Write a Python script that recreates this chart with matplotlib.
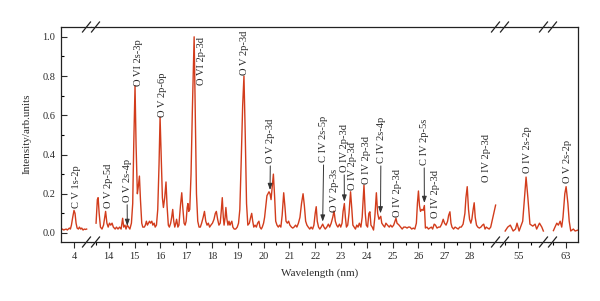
import matplotlib
matplotlib.use("Agg")
import matplotlib.pyplot as plt
import numpy as np

plt.rcParams['font.family'] = ['Liberation Serif', 'DejaVu Serif']

# spectrum, one array pair per axis segment
wl_c = [3.50, 3.55, 3.60, 3.65, 3.70, 3.74, 3.78, 3.82, 3.86, 3.90, 3.95, 4.00,
        4.04, 4.08, 4.12, 4.17, 4.21, 4.26, 4.30, 4.35, 4.40, 4.45, 4.49]
int_c = [0.015, 0.02, 0.015, 0.018, 0.02, 0.015, 0.02, 0.025, 0.02, 0.04, 0.08, 0.115,
         0.10, 0.05, 0.025, 0.02, 0.03, 0.02, 0.025, 0.015, 0.02, 0.018, 0.02]

wl_mid = [13.51, 13.56, 13.59, 13.63, 13.68, 13.74, 13.80, 13.88, 13.93, 13.98, 14.03, 14.08,
          14.13, 14.18, 14.25, 14.30, 14.36, 14.42, 14.48, 14.54, 14.58, 14.63, 14.67, 14.72,
          14.77, 14.82, 14.88, 14.93, 14.97, 15.02, 15.06, 15.11, 15.15, 15.19, 15.23, 15.28,
          15.32, 15.38, 15.42, 15.46, 15.50, 15.54, 15.58, 15.62, 15.67, 15.71, 15.76, 15.80,
          15.85, 15.90, 15.95, 15.99, 16.03, 16.08, 16.12, 16.17, 16.22, 16.26, 16.31, 16.35,
          16.40, 16.44, 16.48, 16.52, 16.56, 16.60, 16.63, 16.68, 16.72, 16.78, 16.83, 16.87,
          16.92, 16.96, 17.00, 17.04, 17.07, 17.10, 17.14, 17.19, 17.24, 17.31, 17.36, 17.40,
          17.45, 17.50, 17.55, 17.60, 17.66, 17.71, 17.76, 17.81, 17.86, 17.91, 17.96, 18.02,
          18.08, 18.13, 18.17, 18.22, 18.27, 18.32, 18.36, 18.40, 18.44, 18.47, 18.51, 18.54,
          18.58, 18.62, 18.66, 18.70, 18.73, 18.77, 18.81, 18.86, 18.92, 18.98, 19.03, 19.08,
          19.13, 19.19, 19.24, 19.29, 19.34, 19.39, 19.45, 19.50, 19.54, 19.58, 19.62, 19.67,
          19.72, 19.77, 19.82, 19.86, 19.91, 19.95, 20.00, 20.04, 20.08, 20.13, 20.17, 20.21,
          20.25, 20.29, 20.34, 20.38, 20.43, 20.47, 20.52, 20.57, 20.62, 20.67, 20.72, 20.78,
          20.83, 20.87, 20.92, 20.97, 21.02, 21.08, 21.13, 21.18, 21.24, 21.29, 21.35, 21.41,
          21.47, 21.53, 21.58, 21.63, 21.68, 21.73, 21.79, 21.84, 21.90, 21.95, 22.00, 22.04,
          22.08, 22.13, 22.18, 22.23, 22.29, 22.34, 22.39, 22.45, 22.51, 22.56, 22.62, 22.68,
          22.73, 22.78, 22.83, 22.88, 22.94, 22.99, 23.04, 23.08, 23.13, 23.17, 23.21, 23.26,
          23.31, 23.37, 23.42, 23.46, 23.51, 23.56, 23.61, 23.66, 23.71, 23.77, 23.82, 23.89,
          23.94, 23.98, 24.03, 24.08, 24.12, 24.16, 24.21, 24.26, 24.31, 24.37, 24.42, 24.47,
          24.54, 24.58, 24.63, 24.69, 24.74, 24.80, 24.87, 24.92, 24.98, 25.04, 25.09, 25.13,
          25.17, 25.21, 25.25, 25.31, 25.37, 25.43, 25.50, 25.56, 25.61, 25.67, 25.74, 25.80,
          25.86, 25.92, 25.96, 26.00, 26.04, 26.08, 26.13, 26.18, 26.23, 26.27, 26.33, 26.39,
          26.44, 26.50, 26.55, 26.61, 26.66, 26.72, 26.78, 26.84, 26.90, 26.96, 27.01, 27.07,
          27.13, 27.17, 27.22, 27.26, 27.30, 27.36, 27.42, 27.48, 27.54, 27.60, 27.66, 27.73,
          27.80, 27.84, 27.89, 27.94, 27.98, 28.03, 28.07, 28.12, 28.16, 28.20, 28.25, 28.30,
          28.36, 28.42, 28.48, 28.53, 28.58, 28.63, 28.68, 28.74, 28.80, 28.85, 28.92, 28.99]
int_mid = [0.05, 0.17, 0.18, 0.10, 0.03, 0.02, 0.04, 0.11, 0.05, 0.03, 0.05, 0.04,
           0.05, 0.03, 0.02, 0.03, 0.02, 0.03, 0.02, 0.075, 0.03, 0.04, 0.02, 0.04,
           0.03, 0.02, 0.05, 0.15, 0.45, 0.75, 0.45, 0.20, 0.24, 0.29, 0.17, 0.05,
           0.03, 0.03, 0.04, 0.06, 0.04, 0.05, 0.06, 0.05, 0.06, 0.04, 0.05, 0.03,
           0.04, 0.12, 0.35, 0.59, 0.40, 0.18, 0.13, 0.18, 0.26, 0.14, 0.04, 0.03,
           0.05, 0.08, 0.12, 0.06, 0.03, 0.05, 0.07, 0.03, 0.04, 0.14, 0.205, 0.13,
           0.05, 0.04, 0.06, 0.13, 0.15, 0.11, 0.12, 0.30, 0.62, 1.00, 0.55, 0.20,
           0.06, 0.03, 0.03, 0.05, 0.08, 0.11, 0.06, 0.04, 0.05, 0.03, 0.04, 0.05,
           0.07, 0.10, 0.11, 0.07, 0.04, 0.05, 0.11, 0.18, 0.08, 0.04, 0.08, 0.13,
           0.07, 0.04, 0.06, 0.04, 0.05, 0.06, 0.03, 0.02, 0.02, 0.03, 0.05, 0.12,
           0.35, 0.65, 0.80, 0.50, 0.15, 0.04, 0.05, 0.08, 0.10, 0.06, 0.03, 0.04,
           0.03, 0.05, 0.06, 0.03, 0.02, 0.03, 0.05, 0.08, 0.13, 0.19, 0.20, 0.21,
           0.20, 0.17, 0.24, 0.30, 0.18, 0.06, 0.04, 0.03, 0.04, 0.03, 0.09, 0.205,
           0.13, 0.06, 0.05, 0.06, 0.04, 0.03, 0.025, 0.03, 0.04, 0.03, 0.05, 0.08,
           0.15, 0.20, 0.14, 0.06, 0.04, 0.03, 0.02, 0.03, 0.02, 0.04, 0.10, 0.134,
           0.06, 0.03, 0.02, 0.03, 0.045, 0.03, 0.02, 0.03, 0.045, 0.03, 0.05, 0.08,
           0.112, 0.06, 0.04, 0.03, 0.045, 0.03, 0.05, 0.11, 0.15, 0.08, 0.03, 0.04,
           0.10, 0.21, 0.12, 0.04, 0.03, 0.02, 0.04, 0.03, 0.05, 0.03, 0.08, 0.244,
           0.10, 0.04, 0.03, 0.10, 0.108, 0.04, 0.03, 0.015, 0.08, 0.205, 0.10, 0.07,
           0.085, 0.05, 0.04, 0.03, 0.05, 0.04, 0.03, 0.04, 0.03, 0.04, 0.06, 0.075,
           0.05, 0.045, 0.04, 0.03, 0.02, 0.03, 0.03, 0.025, 0.03, 0.03, 0.02, 0.025,
           0.02, 0.05, 0.15, 0.214, 0.14, 0.11, 0.12, 0.115, 0.14, 0.025, 0.03, 0.02,
           0.025, 0.03, 0.02, 0.045, 0.04, 0.025, 0.03, 0.03, 0.045, 0.07, 0.05, 0.04,
           0.06, 0.09, 0.108, 0.05, 0.03, 0.02, 0.03, 0.025, 0.02, 0.03, 0.03, 0.045,
           0.10, 0.18, 0.236, 0.12, 0.07, 0.05, 0.07, 0.12, 0.154, 0.08, 0.04, 0.03,
           0.025, 0.03, 0.04, 0.045, 0.02, 0.03, 0.025, 0.02, 0.03, 0.06, 0.10, 0.142]

wl_55 = [54.50, 54.60, 54.70, 54.81, 54.90, 54.96, 55.04, 55.18, 55.25, 55.31, 55.38,
         55.46, 55.57, 55.66, 55.72, 55.83, 55.92, 55.98]
int_55 = [0.01, 0.03, 0.04, 0.01, 0.02, 0.05, 0.01, 0.06, 0.18, 0.285, 0.18,
          0.045, 0.035, 0.045, 0.02, 0.05, 0.03, 0.01]

wl_63 = [62.51, 62.57, 62.64, 62.70, 62.77, 62.83, 62.88, 62.95, 63.00, 63.07, 63.12,
         63.18, 63.28, 63.35, 63.46]
int_63 = [0.012, 0.03, 0.05, 0.04, 0.06, 0.03, 0.08, 0.20, 0.236, 0.15, 0.06,
          0.01, 0.02, 0.01, 0.015]

# line labels: (segment, text, x, y of text bottom, arrow tip or None)
labels = [
    (0, "C V 1s-2p", 4.08, 0.127, None),
    (1, "O V 2p-5d", 13.99, 0.127, None),
    (1, "O V 2s-4p", 14.71, 0.158, (14.72, 0.036)),
    (1, "O VI 2s-3p", 15.15, 0.748, None),
    (1, "O V 2p-6p", 16.09, 0.59, None),
    (1, "O VI 2p-3d", 17.61, 0.753, None),
    (1, "O V 2p-3d", 19.26, 0.804, None),
    (1, "O V 2p-3d", 20.27, 0.356, (20.25, 0.219)),
    (1, "C IV 2s-5p", 22.34, 0.361, (22.29, 0.058)),
    (1, "O V 2p-3s", 22.75, 0.107, None),
    (1, "O IV 2p-3d", 23.12, 0.31, (23.13, 0.16)),
    (1, "O IV 2p-3d", 23.43, 0.22, None),
    (1, "O IV 2p-3d", 23.97, 0.25, None),
    (1, "C IV 2s-4p", 24.55, 0.356, (24.53, 0.10)),
    (1, "O IV 2p-3d", 25.17, 0.081, None),
    (1, "C IV 2p-5s", 26.22, 0.346, (26.23, 0.153)),
    (1, "O IV 2p-3d", 26.68, 0.076, None),
    (1, "O IV 2p-3d", 28.62, 0.26, None),
    (2, "O IV 2s-2p", 55.35, 0.305, None),
    (3, "O V 2s-2p", 63.04, 0.254, None),
]

W, H = 600, 301
fig = plt.figure(figsize=(W / 100, H / 100), dpi=100)
axes = fig.subplots(1, 4, sharey=True,
                    gridspec_kw=dict(width_ratios=[30, 409, 48, 30], wspace=0))
fig.subplots_adjust(left=61 / W, right=578 / W, bottom=59 / H, top=274 / H)

red = "#d23c1c"
txt = "#2b2b2b"
segs = [(wl_c, int_c), (wl_mid, int_mid), (wl_55, int_55), (wl_63, int_63)]
xlims = [(3.496, 4.659), (13.314, 29.16), (54.30, 56.16), (62.30, 63.46)]
majors = [[4], list(range(14, 29)), [55], [63]]
minors = [[], list(np.arange(13.5, 29.1, 1.0)), [54.5, 55.5], [62.5]]

for i, ax in enumerate(axes):
    x, y = segs[i]
    ax.plot(x, y, color=red, lw=1.0)
    ax.set_xlim(*xlims[i])
    ax.set_xticks(majors[i])
    ax.set_xticks(minors[i], minor=True)
    ax.tick_params(axis='x', which='major', direction='out', length=4, width=0.8,
                   labelsize=7.5, colors=txt, pad=3)
    ax.tick_params(axis='x', which='minor', direction='out', length=2.5, width=0.8)
    for s in ax.spines.values():
        s.set_linewidth(0.9)
        s.set_color("#222222")
    if i > 0:
        ax.spines['left'].set_visible(False)
        ax.tick_params(axis='y', which='both', left=False)
    if i < 3:
        ax.spines['right'].set_visible(False)

ax0 = axes[0]
ax0.set_ylim(-0.046, 1.05)
ax0.set_yticks([0.0, 0.2, 0.4, 0.6, 0.8, 1.0])
ax0.set_yticks(np.arange(0.1, 1.0, 0.2), minor=True)
ax0.set_yticklabels(["0.0", "0.2", "0.4", "0.6", "0.8", "1.0"])
ax0.tick_params(axis='y', which='major', direction='in', length=4, width=0.8,
                labelsize=7.5, colors=txt, pad=4)
ax0.tick_params(axis='y', which='minor', direction='in', length=2.5, width=0.8)
for lab in ax0.get_yticklabels() + [l for a in axes for l in a.get_xticklabels()]:
    lab.set_color(txt)

for seg, text, lx, ly, tip in labels:
    ax = axes[seg]
    if tip is None:
        ax.text(lx, ly, text, rotation=90, ha='center', va='bottom',
                fontsize=7.6, color=txt)
    else:
        ax.annotate(text, xy=tip, xytext=(lx, ly), rotation=90, ha='center',
                    va='bottom', fontsize=7.6, color=txt,
                    arrowprops=dict(arrowstyle='-|>,head_length=0.5,head_width=0.18',
                                    color="#333333", lw=0.7, shrinkA=0, shrinkB=0))

fig.text(320 / W, 1 - 273 / H, "Wavelength (nm)", ha='center', va='center',
         fontsize=8, color=txt)
fig.text(27 / W, 1 - 134 / H, "Intensity/arb.units", ha='center', va='center',
         rotation=90, fontsize=8, color=txt)

# break marks on top and bottom spines
for bx in [91, 500, 548]:
    for cx in (bx - 4.5, bx + 4.5):
        for cy in (27, 242):
            fig.add_artist(plt.Line2D([(cx - 4) / W, (cx + 4) / W],
                                      [1 - (cy + 5) / H, 1 - (cy - 5) / H],
                                      color="#222222", lw=0.9))

fig.savefig("out.png", dpi=100)
